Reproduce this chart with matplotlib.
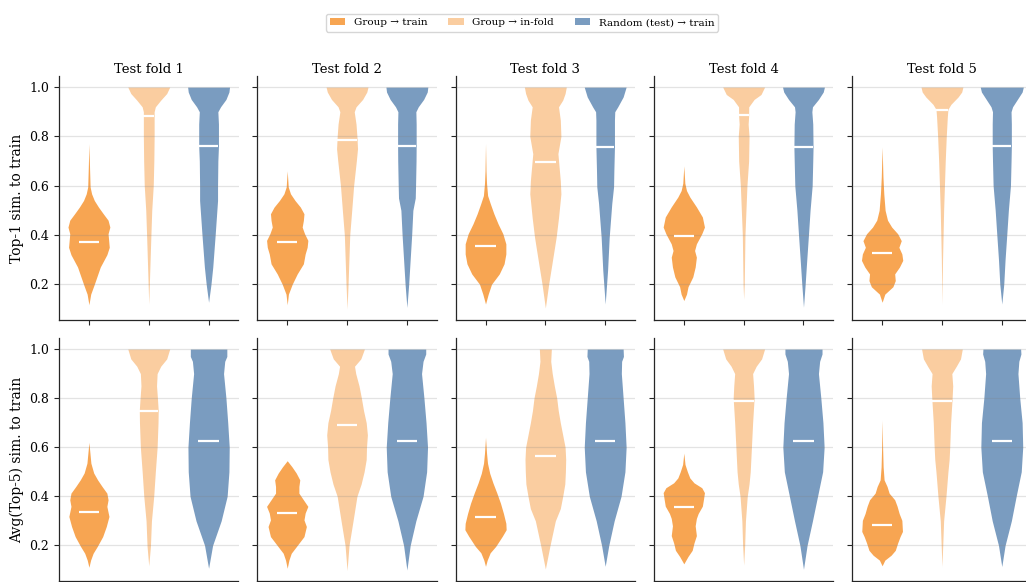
import matplotlib
matplotlib.use('Agg')
import matplotlib.pyplot as plt
from matplotlib.patches import Patch
import numpy as np

plt.rcParams['font.family'] = ['DejaVu Serif', 'DejaVu Sans']

GROUPS = ['Group → train', 'Group → in-fold', 'Random (test) → train']
COLORS = ['#F7A552', '#FACDA0', '#7A9CC0']
FOLDS = ['Test fold 1', 'Test fold 2', 'Test fold 3', 'Test fold 4', 'Test fold 5']
ROW_LABELS = ['Top-1 sim. to train', 'Avg(Top-5) sim. to train']
Y_TICKS = [0.2, 0.4, 0.6, 0.8, 1.0]

# violin outlines: (similarity, half width)
# row 1: Top-1
t1_f1_train = [(0.117, 0), (0.16, 0.03), (0.20, 0.09), (0.27, 0.19), (0.32, 0.30), (0.35, 0.34),
               (0.378, 0.33), (0.405, 0.32), (0.432, 0.35), (0.46, 0.32), (0.486, 0.24), (0.513, 0.16),
               (0.54, 0.09), (0.567, 0.045), (0.595, 0.02), (0.676, 0.01), (0.77, 0)]
t1_f1_infold = [(0.12, 0), (0.2, 0.01), (0.4, 0.036), (0.5, 0.05), (0.6, 0.075), (0.7, 0.085), (0.8, 0.09),
                (0.9, 0.09), (0.92, 0.11), (0.947, 0.2), (0.974, 0.3), (1.0, 0.35)]
t1_f1_random = [(0.127, 0), (0.2, 0.04), (0.27, 0.07), (0.4, 0.11), (0.54, 0.15), (0.6, 0.15), (0.7, 0.155),
                (0.76, 0.165), (0.85, 0.165), (0.9, 0.155), (0.92, 0.2), (0.95, 0.29), (0.98, 0.34), (1.0, 0.35)]

t1_f2_train = [(0.117, 0), (0.16, 0.02), (0.2, 0.083), (0.242, 0.167), (0.283, 0.27), (0.323, 0.30),
               (0.35, 0.333), (0.378, 0.345), (0.405, 0.29), (0.432, 0.25), (0.459, 0.27), (0.486, 0.28),
               (0.513, 0.22), (0.54, 0.13), (0.567, 0.055), (0.595, 0.017), (0.66, 0)]
t1_f2_infold = [(0.10, 0), (0.2, 0.017), (0.4, 0.045), (0.5, 0.078), (0.6, 0.11), (0.7, 0.155), (0.75, 0.175),
                (0.8, 0.165), (0.85, 0.15), (0.9, 0.12), (0.92, 0.15), (0.95, 0.26), (0.98, 0.33), (1.0, 0.35)]
t1_f2_random = [(0.106, 0), (0.2, 0.03), (0.3, 0.055), (0.4, 0.08), (0.5, 0.1), (0.55, 0.14), (0.6, 0.145),
                (0.7, 0.153), (0.76, 0.155), (0.85, 0.155), (0.9, 0.15), (0.92, 0.19), (0.95, 0.28),
                (0.98, 0.34), (1.0, 0.35)]

t1_f3_train = [(0.12, 0), (0.16, 0.045), (0.2, 0.1), (0.242, 0.23), (0.283, 0.31), (0.323, 0.34),
               (0.364, 0.34), (0.405, 0.29), (0.445, 0.21), (0.486, 0.14), (0.527, 0.08), (0.56, 0.035),
               (0.61, 0.017), (0.66, 0.008), (0.77, 0)]
t1_f3_infold = [(0.104, 0), (0.2, 0.055), (0.283, 0.11), (0.39, 0.18), (0.47, 0.22), (0.567, 0.26),
                (0.62, 0.25), (0.73, 0.21), (0.8, 0.26), (0.866, 0.25), (0.92, 0.22), (0.947, 0.29),
                (0.974, 0.33), (1.0, 0.35)]
t1_f3_random = [(0.12, 0), (0.256, 0.04), (0.39, 0.067), (0.527, 0.11), (0.595, 0.14), (0.66, 0.145),
                (0.757, 0.155), (0.866, 0.155), (0.9, 0.16), (0.92, 0.21), (0.96, 0.3), (1.0, 0.35)]

t1_f4_train = [(0.134, 0), (0.16, 0.045), (0.19, 0.07), (0.23, 0.15), (0.27, 0.19), (0.31, 0.21),
               (0.337, 0.18), (0.364, 0.21), (0.405, 0.3), (0.432, 0.345), (0.473, 0.31), (0.514, 0.21),
               (0.554, 0.1), (0.58, 0.045), (0.61, 0.017), (0.68, 0)]
t1_f4_infold = [(0.14, 0), (0.2, 0.01), (0.4, 0.022), (0.6, 0.055), (0.7, 0.083), (0.8, 0.09), (0.85, 0.075),
                (0.88, 0.083), (0.92, 0.085), (0.95, 0.175), (0.97, 0.29), (1.0, 0.35)]
t1_f4_random = [(0.107, 0), (0.2, 0.028), (0.3, 0.055), (0.4, 0.083), (0.5, 0.11), (0.6, 0.145), (0.7, 0.155),
                (0.755, 0.16), (0.85, 0.155), (0.9, 0.14), (0.92, 0.15), (0.95, 0.25), (0.98, 0.33), (1.0, 0.35)]

t1_f5_train = [(0.127, 0), (0.16, 0.045), (0.19, 0.18), (0.215, 0.22), (0.242, 0.21), (0.27, 0.29),
               (0.297, 0.345), (0.323, 0.33), (0.35, 0.28), (0.377, 0.32), (0.405, 0.26), (0.432, 0.16),
               (0.46, 0.09), (0.5, 0.05), (0.567, 0.028), (0.635, 0.014), (0.757, 0)]
t1_f5_infold = [(0.12, 0), (0.3, 0.01), (0.5, 0.028), (0.7, 0.055), (0.8, 0.072), (0.88, 0.09), (0.91, 0.1),
                (0.93, 0.15), (0.96, 0.27), (0.98, 0.33), (1.0, 0.35)]
t1_f5_random = [(0.12, 0), (0.2, 0.033), (0.3, 0.055), (0.4, 0.083), (0.5, 0.11), (0.6, 0.145), (0.7, 0.155),
                (0.76, 0.16), (0.85, 0.16), (0.9, 0.155), (0.92, 0.18), (0.95, 0.26), (0.98, 0.34), (1.0, 0.36)]

# row 2: Avg(Top-5)
a5_f1_train = [(0.111, 0), (0.14, 0.028), (0.168, 0.07), (0.196, 0.14), (0.236, 0.23), (0.277, 0.29),
               (0.318, 0.335), (0.359, 0.30), (0.386, 0.32), (0.413, 0.30), (0.44, 0.22), (0.467, 0.145),
               (0.495, 0.08), (0.535, 0.033), (0.576, 0.017), (0.62, 0)]
a5_f1_infold = [(0.117, 0), (0.196, 0.028), (0.3, 0.045), (0.4, 0.083), (0.5, 0.11), (0.6, 0.14), (0.7, 0.155),
                (0.75, 0.158), (0.8, 0.145), (0.85, 0.13), (0.9, 0.14), (0.93, 0.2), (0.96, 0.3), (1.0, 0.35)]
a5_f1_random = [(0.107, 0), (0.2, 0.067), (0.3, 0.21), (0.4, 0.31), (0.5, 0.34), (0.6, 0.345), (0.7, 0.32),
                (0.8, 0.29), (0.9, 0.25), (0.95, 0.27), (0.97, 0.305), (1.0, 0.305)]

a5_f2_train = [(0.107, 0), (0.14, 0.028), (0.168, 0.067), (0.196, 0.155), (0.236, 0.28), (0.277, 0.32),
               (0.304, 0.28), (0.332, 0.30), (0.359, 0.345), (0.386, 0.27), (0.413, 0.195), (0.44, 0.195),
               (0.467, 0.21), (0.495, 0.15), (0.52, 0.08), (0.545, 0)]
a5_f2_infold = [(0.098, 0), (0.2, 0.033), (0.3, 0.1), (0.4, 0.165), (0.45, 0.235), (0.5, 0.285), (0.55, 0.32),
                (0.6, 0.325), (0.65, 0.34), (0.7, 0.32), (0.75, 0.275), (0.8, 0.24), (0.85, 0.2), (0.9, 0.145),
                (0.93, 0.125), (0.96, 0.23), (1.0, 0.29)]
a5_f2_random = [(0.10, 0), (0.2, 0.055), (0.3, 0.15), (0.35, 0.21), (0.4, 0.27), (0.5, 0.33), (0.6, 0.345),
                (0.7, 0.32), (0.8, 0.285), (0.9, 0.245), (0.95, 0.27), (0.98, 0.315), (1.0, 0.315)]

a5_f3_train = [(0.115, 0), (0.14, 0.028), (0.17, 0.078), (0.196, 0.17), (0.237, 0.28), (0.264, 0.345),
               (0.29, 0.34), (0.33, 0.30), (0.372, 0.25), (0.413, 0.19), (0.454, 0.125), (0.494, 0.07),
               (0.535, 0.033), (0.576, 0.017), (0.64, 0)]
a5_f3_infold = [(0.104, 0), (0.2, 0.078), (0.3, 0.167), (0.35, 0.25), (0.4, 0.29), (0.45, 0.325), (0.5, 0.335),
                (0.55, 0.34), (0.6, 0.33), (0.65, 0.29), (0.7, 0.25), (0.75, 0.215), (0.8, 0.19), (0.85, 0.15),
                (0.9, 0.115), (0.95, 0.09), (1.0, 0.1)]
a5_f3_random = [(0.115, 0), (0.2, 0.06), (0.3, 0.15), (0.4, 0.265), (0.5, 0.33), (0.6, 0.35), (0.7, 0.33),
                (0.8, 0.3), (0.9, 0.27), (0.95, 0.275), (0.97, 0.305), (1.0, 0.3)]

a5_f4_train = [(0.125, 0), (0.155, 0.07), (0.18, 0.14), (0.21, 0.17), (0.24, 0.21), (0.28, 0.19), (0.31, 0.21),
               (0.33, 0.24), (0.36, 0.31), (0.39, 0.33), (0.415, 0.345), (0.435, 0.3), (0.455, 0.17),
               (0.475, 0.1), (0.5, 0.06), (0.53, 0.02), (0.576, 0)]
a5_f4_infold = [(0.12, 0), (0.2, 0.017), (0.3, 0.03), (0.4, 0.06), (0.45, 0.09), (0.5, 0.11), (0.6, 0.13),
                (0.7, 0.15), (0.8, 0.175), (0.85, 0.165), (0.9, 0.15), (0.93, 0.21), (0.96, 0.3), (1.0, 0.35)]
a5_f4_random = [(0.103, 0), (0.2, 0.06), (0.3, 0.15), (0.4, 0.235), (0.5, 0.32), (0.6, 0.345), (0.7, 0.325),
                (0.8, 0.29), (0.9, 0.25), (0.95, 0.27), (0.98, 0.31), (1.0, 0.31)]

a5_f5_train = [(0.117, 0), (0.14, 0.045), (0.16, 0.15), (0.18, 0.22), (0.21, 0.26), (0.236, 0.3), (0.257, 0.34),
               (0.302, 0.33), (0.33, 0.285), (0.36, 0.25), (0.386, 0.21), (0.413, 0.117), (0.44, 0.083),
               (0.467, 0.033), (0.52, 0.017), (0.6, 0.008), (0.71, 0)]
a5_f5_infold = [(0.114, 0), (0.3, 0.028), (0.4, 0.067), (0.5, 0.1), (0.55, 0.12), (0.6, 0.13), (0.7, 0.145),
                (0.8, 0.17), (0.85, 0.18), (0.9, 0.165), (0.93, 0.24), (0.96, 0.31), (1.0, 0.34)]
a5_f5_random = [(0.114, 0), (0.2, 0.055), (0.3, 0.16), (0.4, 0.24), (0.5, 0.325), (0.6, 0.35), (0.7, 0.34),
                (0.8, 0.3), (0.9, 0.27), (0.95, 0.285), (0.98, 0.32), (1.0, 0.315)]

# medians per fold
t1_med_train = [0.372, 0.372, 0.355, 0.396, 0.327]
t1_med_infold = [0.883, 0.784, 0.696, 0.885, 0.909]
t1_med_random = [0.760, 0.760, 0.757, 0.755, 0.760]
a5_med_train = [0.336, 0.332, 0.314, 0.357, 0.284]
a5_med_infold = [0.749, 0.692, 0.566, 0.788, 0.787]
a5_med_random = [0.626, 0.626, 0.624, 0.626, 0.624]

rows = [
    [[t1_f1_train, t1_f1_infold, t1_f1_random],
     [t1_f2_train, t1_f2_infold, t1_f2_random],
     [t1_f3_train, t1_f3_infold, t1_f3_random],
     [t1_f4_train, t1_f4_infold, t1_f4_random],
     [t1_f5_train, t1_f5_infold, t1_f5_random]],
    [[a5_f1_train, a5_f1_infold, a5_f1_random],
     [a5_f2_train, a5_f2_infold, a5_f2_random],
     [a5_f3_train, a5_f3_infold, a5_f3_random],
     [a5_f4_train, a5_f4_infold, a5_f4_random],
     [a5_f5_train, a5_f5_infold, a5_f5_random]],
]
medians = [
    [t1_med_train, t1_med_infold, t1_med_random],
    [a5_med_train, a5_med_infold, a5_med_random],
]


# one violin from its outline + white median bar
def drawViolin(ax, pos, outline, median, color):
    ys = np.array([p[0] for p in outline])
    hw = np.array([p[1] for p in outline])
    ax.fill_betweenx(ys, pos - hw, pos + hw, color=color, lw=0, zorder=2)
    half = min(0.17, np.interp(median, ys, hw))
    ax.plot([pos - half, pos + half], [median, median], color='white', lw=1.6,
            solid_capstyle='butt', zorder=4)


fig = plt.figure(figsize=(10.26, 5.82), dpi=100)
W, H = 1026, 582

axes = []
for r in range(2):
    top_px = 76 if r == 0 else 338
    bot_px = 320 if r == 0 else 581
    for c in range(5):
        left_px = 59 + c * 198.3
        rect = [left_px / W, 1 - bot_px / H, 179.5 / W, (bot_px - top_px) / H]
        ax = fig.add_axes(rect, sharey=axes[0] if axes else None)
        axes.append(ax)

        for g in range(3):
            drawViolin(ax, g, rows[r][c][g], medians[r][g][c], COLORS[g])

        ax.set_xlim(-0.5, 2.5)
        ax.set_ylim(0.055, 1.045)
        ax.set_xticks([0, 1, 2])
        ax.set_xticklabels([])
        ax.set_yticks(Y_TICKS)
        ax.set_axisbelow(False)
        ax.yaxis.grid(True, color='0.5', lw=0.9, alpha=0.22, zorder=3)
        for s in ['top', 'right']:
            ax.spines[s].set_visible(False)
        for s in ['left', 'bottom']:
            ax.spines[s].set_color('0.15')
            ax.spines[s].set_linewidth(0.9)
        ax.tick_params(direction='out', length=3.5, width=0.8, color='0.15', labelsize=9)
        if c == 0:
            ax.set_ylabel(ROW_LABELS[r], fontsize=10)
        else:
            ax.tick_params(labelleft=False)
        if r == 0:
            ax.set_title(FOLDS[c], fontsize=9.5, pad=2)

handles = [Patch(facecolor=COLORS[i], edgecolor='none', label=GROUPS[i]) for i in range(3)]
leg = fig.legend(handles=handles, loc='center', bbox_to_anchor=(522 / W, 1 - 22.7 / H), ncol=3,
                 fontsize=7.5, frameon=True, handlelength=1.5, columnspacing=2.0)
leg.get_frame().set_edgecolor('0.8')

fig.savefig('out.png', dpi=100)
